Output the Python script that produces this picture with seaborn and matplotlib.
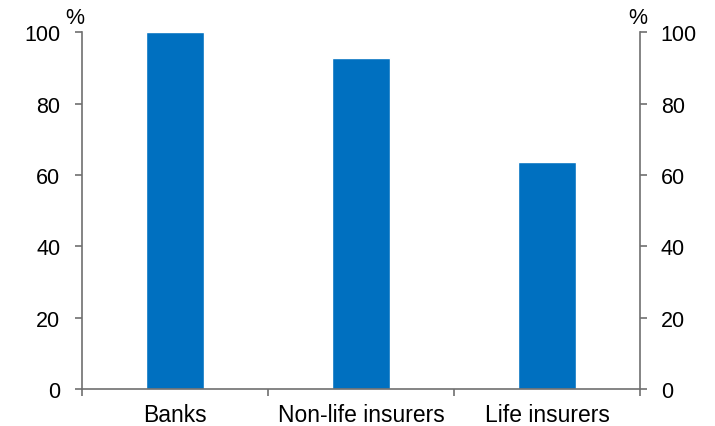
import numpy as np
import matplotlib
matplotlib.use('Agg')
import matplotlib.pyplot as plt
import pandas as pd
import seaborn as sns

categories = ["Banks", "Non-life insurers", "Life insurers"]
values = [100.0, 92.8, 63.5]
yticks = [0, 20, 40, 60, 80, 100]

sns.set_style("white")
plt.rcParams['font.family'] = ['Liberation Sans', 'DejaVu Sans']
plt.rcParams['text.color'] = 'black'
plt.rcParams['xtick.color'] = 'black'
plt.rcParams['ytick.color'] = 'black'

df = pd.DataFrame({"sector": categories, "value": values})
fs = 15.5

fig = plt.figure(figsize=(7.15, 4.27), dpi=100)
ax = fig.add_axes([0.1147, 0.0855, 0.7804, 0.8372])
sns.barplot(data=df, x="sector", y="value", color="#0070C0", saturation=1,
            width=0.31, ax=ax)

spine_col = "#6f6f6f"
ax.set_ylim(0, 100)
ax.set_xlim(-0.5, 2.5)
ax.set_yticks(yticks)
ax.set_xlabel("")
ax.set_ylabel("")
for s in ["top", "right"]:
  ax.spines[s].set_visible(False)
for s in ["left", "bottom"]:
  ax.spines[s].set_color(spine_col)
  ax.spines[s].set_linewidth(1.2)

# category labels on minor ticks, boundary ticks on major
ax.set_xticks([-0.5, 0.5, 1.5, 2.5])
ax.set_xticklabels([])
ax.set_xticks([0, 1, 2], minor=True)
ax.set_xticklabels(categories, minor=True)
ax.tick_params(axis='x', which='major', direction='out', length=5, width=1.2,
               color=spine_col, bottom=True)
ax.tick_params(axis='x', which='minor', length=0, pad=10, labelsize=16.5,
               labelcolor='black')
ax.tick_params(axis='y', direction='out', length=5, width=1.2, color=spine_col,
               pad=10.5, labelsize=fs, left=True, labelcolor='black')

ax2 = ax.twinx()
ax2.set_ylim(0, 100)
ax2.set_yticks(yticks)
for s in ["top", "left", "bottom"]:
  ax2.spines[s].set_visible(False)
ax2.spines["right"].set_color(spine_col)
ax2.spines["right"].set_linewidth(1.2)
ax2.tick_params(axis='y', direction='out', length=5, width=1.2, color=spine_col,
                pad=10, labelsize=fs, right=True, labelcolor='black')

fig.text(75/715, 1 - 18/427, "%", fontsize=fs, ha='center', va='center')
fig.text(638/715, 1 - 18/427, "%", fontsize=fs, ha='center', va='center')

plt.savefig("out.png", dpi=100)
